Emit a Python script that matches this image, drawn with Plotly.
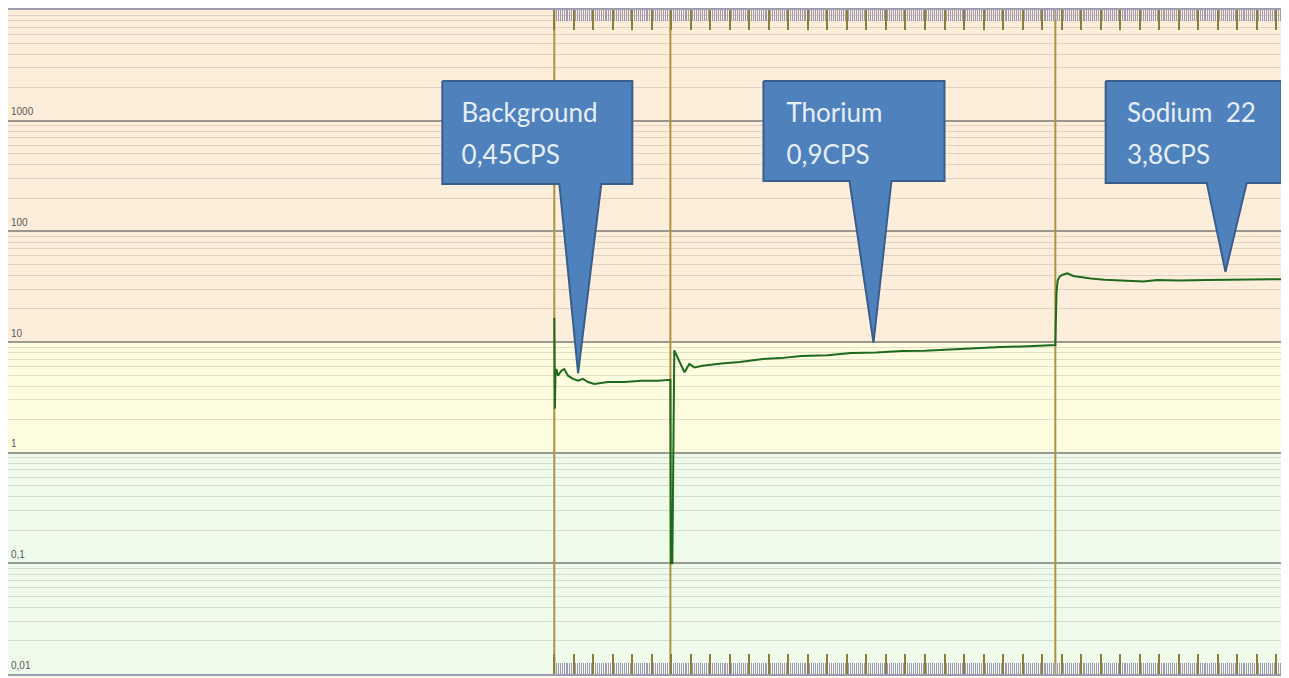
import numpy as np
import plotly.graph_objects as go

# ---------------- data ----------------
# time axis in arbitrary units (one major tick per unit); count rate on log axis
bg_t = [0.0, 0.03, 0.06, 0.10, 0.19, 0.36, 0.51, 0.70, 0.96, 1.22, 1.47, 1.73, 2.05, 2.75, 3.59, 4.46, 5.32, 5.92]
bg_v = [16.5, 2.5, 5.2, 5.7, 4.96, 5.51, 5.70, 4.96, 4.64, 4.47, 4.64, 4.35, 4.18, 4.35, 4.35, 4.47, 4.47, 4.56]

th_t = [5.95, 5.98, 6.05, 6.15, 6.40, 6.67, 6.92, 7.18, 7.6, 8.56, 9.5, 10.6, 11.6, 12.67, 14.0, 15.2, 16.5, 17.8, 19.0, 20.36, 21.6, 22.9, 24.3, 25.68]
th_v = [4.56, 0.1, 0.1, 8.4, 6.8, 5.33, 6.33, 5.9, 6.1, 6.4, 6.6, 7.0, 7.15, 7.47, 7.6, 7.95, 8.05, 8.3, 8.35, 8.6, 8.75, 9.0, 9.15, 9.4]

na_t = [25.70, 25.74, 25.80, 25.90, 26.05, 26.3, 26.6, 27.0, 27.5, 28.2, 29.0, 29.5, 30.2, 30.9, 32.0, 33.5, 35.0, 37.28]
na_v = [14, 28, 36, 39, 40.5, 41.7, 39.5, 38.4, 37.5, 36.5, 36.0, 35.6, 35.3, 36.3, 36.0, 36.4, 36.6, 37.0]

segment_starts = [0.0, 5.95, 25.68]          # measurement change markers
callout_titles = ["Background", "Thorium", "Sodium  22"]
callout_rates = ["0,45CPS", "0,9CPS", "3,8CPS"]

ytick_vals = [1000, 100, 10, 1, 0.1, 0.01]
ytick_text = ["1000", "100", "10", "1", "0,1", "0,01"]

# ---------------- layout config ----------------
X_RANGE = [-28.0, 37.4]
Y_LOG_RANGE = [-2, 4]
DATA_END = 37.28

# callout geometry: box (t0, t1, v_bottom, v_top), pointer base (t0, t1), tip (t, v), text x
CALLOUT_GEOM = [
    dict(box=(-5.74, 4.0, 268, 2281), base=(0.26, 2.41), tip=(1.22, 5.2), tx=-4.75),
    dict(box=(10.72, 20.0, 285, 2281), base=(15.13, 17.28), tip=(16.36, 9.8), tx=11.9),
    dict(box=(28.26, 37.28, 274, 2281), base=(33.44, 35.49), tip=(34.4, 43.0), tx=29.35),
]
TEXT_Y1, TEXT_Y2 = 1125, 460

BAND_COLORS = [  # (low, high, colour)
    (10, 10000, "#fdeedc"),
    (1, 10, "#fefde0"),
    (0.01, 1, "#eefaea"),
]

fig = go.Figure()

# background bands (paper coords computed from log scale)
def vfrac(v):
    return (np.log10(v) - Y_LOG_RANGE[0]) / (Y_LOG_RANGE[1] - Y_LOG_RANGE[0])

for lo, hi, col in BAND_COLORS:
    fig.add_shape(type="rect", xref="paper", yref="paper", x0=0, x1=1,
                  y0=vfrac(lo), y1=vfrac(hi), fillcolor=col, line_width=0, layer="below")

# vertical marker lines
for s in segment_starts:
    fig.add_trace(go.Scatter(x=[s, s], y=[10 ** Y_LOG_RANGE[0], 10 ** Y_LOG_RANGE[1]],
                             mode="lines", line=dict(color="#ad9240", width=2),
                             hoverinfo="skip", showlegend=False))

# measurement line
t_all = bg_t + th_t + na_t
v_all = bg_v + th_v + na_v
fig.add_trace(go.Scatter(x=t_all, y=v_all, mode="lines",
                         line=dict(color="#1d6a1d", width=2), showlegend=False))

# callouts
for g, title, rate in zip(CALLOUT_GEOM, callout_titles, callout_rates):
    x0, x1, yb, yt = g["box"]
    bl, br = g["base"]
    tt, tv = g["tip"]
    px = [x0, x1, x1, br, tt, bl, x0, x0]
    py = [yt, yt, yb, yb, tv, yb, yb, yt]
    fig.add_trace(go.Scatter(x=px, y=py, mode="lines", fill="toself",
                             fillcolor="#4f81bd", line=dict(color="#3a5e8c", width=2),
                             hoverinfo="skip", showlegend=False))
    fig.add_trace(go.Scatter(x=[g["tx"], g["tx"]], y=[TEXT_Y1, TEXT_Y2], mode="text",
                             text=[title, rate], textposition="middle right",
                             textfont=dict(family="Lato", size=26, color="#e6eef9"),
                             hoverinfo="skip", showlegend=False))

# y labels inside plot, just above the decade lines
for v, txt in zip(ytick_vals, ytick_text):
    fig.add_annotation(xref="paper", yref="y", x=0.001, y=np.log10(v), yshift=9,
                       text=txt, showarrow=False, xanchor="left", yanchor="middle",
                       font=dict(family="Liberation Sans", size=10, color="#5a5a5a"))

major_ticks = list(range(0, int(DATA_END) + 1))
minor_ticks = [round(x, 2) for x in np.arange(0, DATA_END, 0.1)]

dec_vals = [10.0 ** k for k in range(-2, 5)]
minor_y = [m * 10.0 ** k for k in range(-2, 4) for m in range(2, 10)]

fig.update_layout(
    width=1281, height=670,
    margin=dict(l=0, r=5, t=2, b=4),
    paper_bgcolor="#fcf6ec",
    plot_bgcolor="rgba(0,0,0,0)",
    showlegend=False,
    xaxis=dict(range=X_RANGE, showgrid=False, zeroline=False, showticklabels=False,
               ticks="inside", tickmode="array", tickvals=major_ticks, ticklen=20,
               tickwidth=2, tickcolor="#8d7d3a", mirror="ticks", showline=True,
               linecolor="#9c9cae", linewidth=2,
               minor=dict(ticks="inside", tickmode="array", tickvals=minor_ticks,
                          ticklen=11, tickwidth=1, tickcolor="#9e9ab4", showgrid=False)),
    yaxis=dict(type="log", range=Y_LOG_RANGE, showticklabels=False, ticks="",
               tickmode="array", tickvals=dec_vals, showgrid=True,
               gridcolor="rgba(105,105,100,0.65)", gridwidth=1.5, zeroline=False,
               showline=True, linecolor="#7c7c68", linewidth=2,
               minor=dict(tickmode="array", tickvals=minor_y, showgrid=True, ticks="",
                          gridcolor="rgba(130,115,100,0.22)", gridwidth=1)),
)

fig.write_html("out.html")
